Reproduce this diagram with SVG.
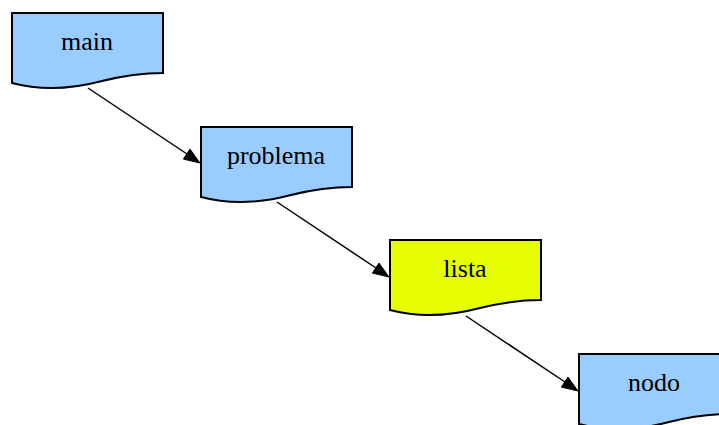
<svg xmlns="http://www.w3.org/2000/svg" width="719" height="425" viewBox="0 0 719 425">
<style>
.n path{stroke:#000;stroke-width:2;}
.blue{fill:#99ccff;}
.yellow{fill:#e5ff00;}
.n text{font-family:"Liberation Serif",serif;font-size:26px;text-anchor:middle;fill:#000;}
.e line{stroke:#000;stroke-width:1.5;}
.e path{fill:#000;stroke:#000;stroke-width:1;}
</style>
<rect width="719" height="425" fill="#fff"/>
<g class="e" id="edges">
<line x1="88" y1="88" x2="190" y2="156"/>
<path d="M200,163 L183.4,159.1 L190,149.1 z"/>
<line x1="277" y1="202" x2="379" y2="270"/>
<path d="M389,277 L372.4,273.1 L379,263.1 z"/>
<line x1="466" y1="316" x2="568" y2="384"/>
<path d="M578,391 L561.4,387.1 L568,377.1 z"/>
</g>
<g class="n" id="main">
<path class="blue" transform="translate(12,13)" d="M0,0 H151 V60 C130,60 110,63 90,68 C60,76 30,78 0,70 Z"/>
<text x="87" y="50">main</text>
</g>
<g class="n" id="problema">
<path class="blue" transform="translate(201,127)" d="M0,0 H151 V60 C130,60 110,63 90,68 C60,76 30,78 0,70 Z"/>
<text x="276" y="164">problema</text>
</g>
<g class="n" id="lista">
<path class="yellow" transform="translate(390,240)" d="M0,0 H151 V60 C130,60 110,63 90,68 C60,76 30,78 0,70 Z"/>
<text x="465" y="277">lista</text>
</g>
<g class="n" id="nodo">
<path class="blue" transform="translate(579,354)" d="M0,0 H151 V60 C130,60 110,63 90,68 C60,76 30,78 0,70 Z"/>
<text x="654" y="391">nodo</text>
</g>
</svg>
